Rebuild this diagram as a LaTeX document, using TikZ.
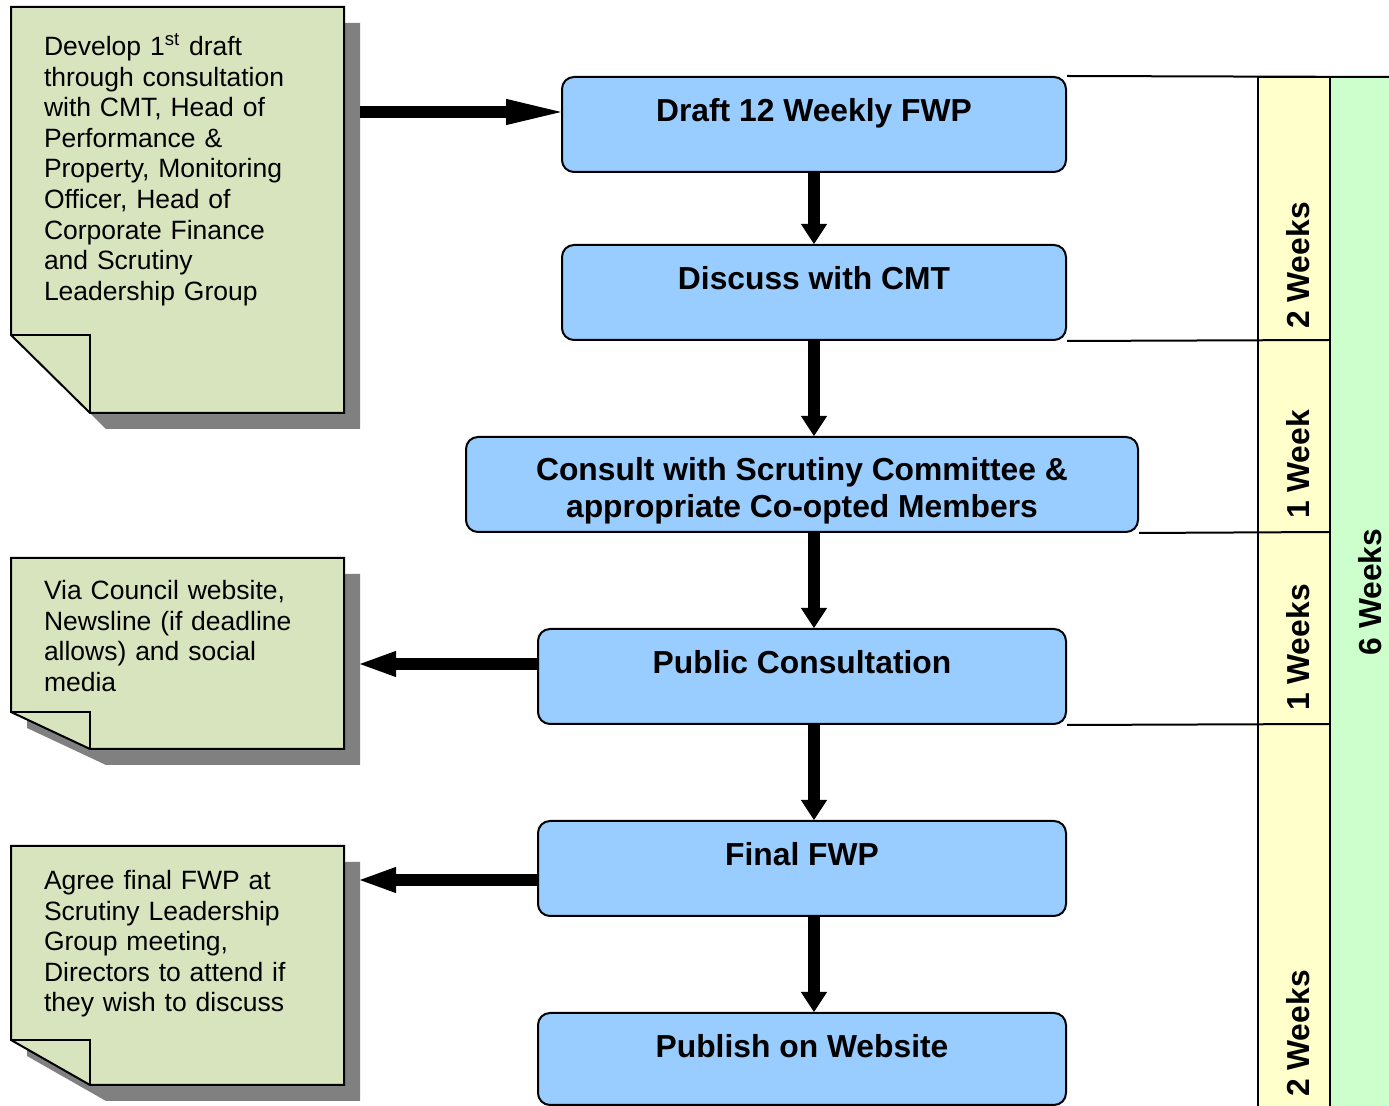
\documentclass[tikz,border=0pt]{standalone}
\usepackage{fontspec}
\setmainfont{Liberation Sans}
\usetikzlibrary{arrows.meta, calc, positioning}

\definecolor{stepblue}{RGB}{153,204,255}
\definecolor{notegreen}{RGB}{215,228,189}
\definecolor{shadowgray}{RGB}{128,128,128}
\definecolor{weekyellow}{RGB}{255,255,204}
\definecolor{weekgreen}{RGB}{204,255,204}

\newcommand{\stepfont}{\bfseries\fontsize{15.9pt}{18.5pt}\selectfont}
\newcommand{\notefont}{\fontsize{13.25pt}{15.3pt}\selectfont}

% sticky note: top y, bottom y, fold y
\newcommand{\notesheet}[3]{%
    \fill[shadowgray] (27,#1+16) -- (360,#1+16) -- (360,#2+16) -- (106,#2+16) -- (27,#3+16) -- cycle;
    \filldraw[fill=notegreen] (11,#1) -- (344,#1) -- (344,#2) -- (90,#2) -- (11,#3) -- cycle;
    \draw (11,#3) -- (90,#3) -- (90,#2);
}

\begin{document}
\begin{tikzpicture}[x=0.5pt, y=-0.5pt, line width=1pt,
        stepbox/.style={draw, fill=stepblue, rounded corners=6pt, minimum width=252pt,
            inner sep=0pt, text height=22.2pt, text depth=25.3pt, font=\stepfont},
        widebox/.style={draw, fill=stepblue, rounded corners=6pt, minimum width=336pt,
            minimum height=47.5pt, align=center, font=\stepfont},
        notetext/.style={anchor=base west, inner sep=0pt, text width=150pt, align=left, font=\notefont},
        weeklabel/.style={rotate=90, anchor=west, inner sep=0pt, font=\stepfont},
        flowarrow/.style={line width=6pt, -{Triangle[length=#1, width=13pt, line width=0.5pt]}},
        flowarrow/.default=10pt]
    \useasboundingbox (0,0) rectangle (1389,1106);

    % time bars
    \filldraw[fill=weekyellow] (1258,77) rectangle (1330,1112);
    \filldraw[fill=weekgreen] (1330,77) rectangle (1395,1112);

    % sticky notes
    \notesheet{7}{413}{335}
    \notesheet{558}{749}{712}
    \notesheet{846}{1085}{1040}

    \node[notetext] (developtxt) at (43,55.5) {Develop 1\textsuperscript{st} draft\\through consultation\\with CMT, Head of\\Performance \&\\Property, Monitoring\\Officer, Head of\\Corporate Finance\\and Scrutiny\\Leadership Group};
    \node[notetext] (viatxt) at (43,599.5) {Via Council website,\\Newsline (if deadline\\allows) and social\\media};
    \node[notetext] (agreetxt) at (43,889.5) {Agree final FWP at\\Scrutiny Leadership\\Group meeting,\\Directors to attend if\\they wish to discuss};

    \coordinate (develop) at (360,112);
    \coordinate (via) at (360,664);
    \coordinate (agree) at (360,880);

    % process steps
    \node[stepbox] (draft) at (814,124.5) {Draft 12 Weekly FWP};
    \node[stepbox] (cmt) at (814,292.5) {Discuss with CMT};
    \node[widebox] (consult) at (802,484.5) {\rule{0pt}{17.6pt}Consult with Scrutiny Committee \&\\appropriate Co-opted Members};
    \node[stepbox, minimum width=264pt] (public) at (802,676.5) {Public Consultation};
    \node[stepbox, minimum width=264pt] (final) at (802,868.5) {Final FWP};
    \node[stepbox, minimum width=264pt, text depth=23.8pt] (publish) at (802,1059) {Publish on Website};

    % week dividers
    \draw (draft.north east) -- (1395,77);
    \draw (cmt.south east) -- (1330,340);
    \draw (consult.south east) -- (1330,532);
    \draw (public.south east) -- (1330,724);

    \node[weeklabel] (wkA) at (1298,330) {2 Weeks};
    \node[weeklabel] (wkB) at (1298,520) {1 Week};
    \node[weeklabel] (wkC) at (1298,712) {1 Weeks};
    \node[weeklabel] (wkD) at (1298,1098) {2 Weeks};
    \node[rotate=90, font=\stepfont] (wkAll) at (1370,592) {6 Weeks};

    % arrows
    \draw[flowarrow=27.5pt] (develop) -- (develop -| draft.west);
    \draw[flowarrow] (draft.south) -- (cmt.north);
    \draw[flowarrow] (cmt.south) -- (cmt.south |- consult.north);
    \draw[flowarrow] (cmt.south |- consult.south) -- (cmt.south |- public.north);
    \draw[flowarrow] (cmt.south |- public.south) -- (cmt.south |- final.north);
    \draw[flowarrow] (cmt.south |- final.south) -- (cmt.south |- publish.north);
    \draw[flowarrow=18pt] (public.west |- via) -- (via);
    \draw[flowarrow=18pt] (final.west |- agree) -- (agree);
\end{tikzpicture}
\end{document}
